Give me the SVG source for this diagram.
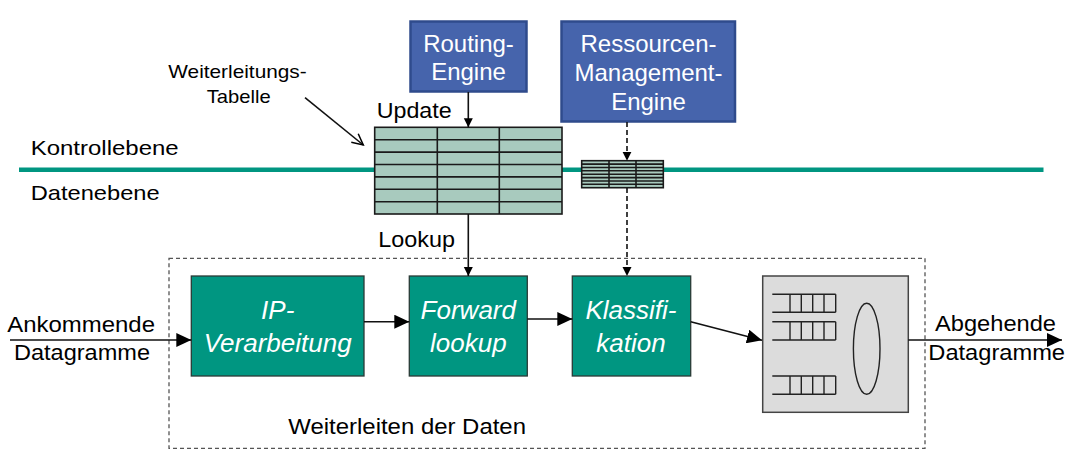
<svg xmlns="http://www.w3.org/2000/svg" width="1070" height="464" viewBox="0 0 1070 464">
<defs>
<style>
.lbl{font-family:"Liberation Sans",Arial,sans-serif;fill:#000}
.btxt{font-family:"Liberation Sans",Arial,sans-serif;fill:#fff;font-size:24px;text-anchor:middle}
.gtxt{font-family:"Liberation Sans",Arial,sans-serif;fill:#fff;font-size:26px;font-style:italic;text-anchor:middle}
.blue{fill:#4664AC;stroke:#2F4B8C;stroke-width:2.5}
.green{fill:#009681;stroke:#2a3a36;stroke-width:1.3}
.tbl{fill:#A8CABE;stroke:#1a1a1a;stroke-width:1.6}
.tl{stroke:#1a1a1a;stroke-width:1.6;fill:none}
.con{stroke:#111;stroke-width:1.6;fill:none}
.dash{stroke:#111;stroke-width:1.6;fill:none;stroke-dasharray:5 3}
.q{stroke:#222;stroke-width:1.4;fill:none}
</style>
<marker id="big" markerUnits="userSpaceOnUse" markerWidth="16" markerHeight="14" refX="15" refY="7" orient="auto">
<path d="M0,0 L15,7 L0,14 Z" fill="#000"/>
</marker>
<marker id="small" markerUnits="userSpaceOnUse" markerWidth="10" markerHeight="10" refX="9" refY="5" orient="auto">
<path d="M0,0.5 L9,5 L0,9.5 Z" fill="#000"/>
</marker>
<marker id="open" markerUnits="userSpaceOnUse" markerWidth="14" markerHeight="14" refX="12" refY="7" orient="auto">
<path d="M1,1.5 L12,7 L1,12.5" fill="none" stroke="#000" stroke-width="1.5"/>
</marker>
</defs>
<rect width="1070" height="464" fill="#fff"/>

<g id="planes">
<line x1="19" y1="169.7" x2="1043.5" y2="169.7" stroke="#009681" stroke-width="4.5"/>
<text class="lbl" x="30.7" y="155" font-size="21" textLength="148" lengthAdjust="spacingAndGlyphs">Kontrollebene</text>
<text class="lbl" x="30.7" y="200" font-size="21" textLength="129" lengthAdjust="spacingAndGlyphs">Datenebene</text>
</g>

<g id="container">
<rect x="169" y="258.3" width="756" height="190" fill="none" stroke="#555" stroke-width="1.3" stroke-dasharray="4 3"/>
<text class="lbl" x="288.3" y="434.3" font-size="22" textLength="237.7" lengthAdjust="spacingAndGlyphs">Weiterleiten der Daten</text>
</g>

<g id="routing-engine">
<rect class="blue" x="410.5" y="21.5" width="116" height="70"/>
<text class="btxt" x="468.5" y="51.7">Routing-</text>
<text class="btxt" x="468.5" y="80">Engine</text>
</g>

<g id="ressourcen-engine">
<rect class="blue" x="561.5" y="21.5" width="173.5" height="100"/>
<text class="btxt" x="648.5" y="51.7">Ressourcen-</text>
<text class="btxt" x="648.5" y="81">Management-</text>
<text class="btxt" x="648.5" y="110">Engine</text>
</g>

<g id="weiterleitungstabelle">
<rect class="tbl" x="374.7" y="127.3" width="187.3" height="86.7"/>
<path class="tl" d="M374.7,139.7H562M374.7,152.1H562M374.7,164.5H562M374.7,176.9H562M374.7,189.3H562M374.7,201.7H562M437.3,127.3V214M499.3,127.3V214"/>
<text class="lbl" x="168.3" y="78.3" font-size="19" textLength="138.4" lengthAdjust="spacingAndGlyphs">Weiterleitungs-</text>
<text class="lbl" x="206.7" y="103.3" font-size="19" textLength="64" lengthAdjust="spacingAndGlyphs">Tabelle</text>
</g>

<g id="ressourcen-tabelle">
<rect class="tbl" x="581.7" y="160.7" width="81.6" height="27" stroke-width="1.3"/>
<path class="tl" stroke-width="1.1" d="M581.7,164.1H663.3M581.7,167.5H663.3M581.7,170.8H663.3M581.7,174.2H663.3M581.7,177.6H663.3M581.7,181H663.3M581.7,184.3H663.3M609,160.7V187.7M636,160.7V187.7"/>
</g>

<g id="ip-verarbeitung">
<rect class="green" x="191.3" y="276" width="172.7" height="100"/>
<text class="gtxt" x="277.7" y="319.3">IP-</text>
<text class="gtxt" x="277.7" y="351.7">Verarbeitung</text>
</g>

<g id="forward-lookup">
<rect class="green" x="409.3" y="276" width="118" height="100"/>
<text class="gtxt" x="468.3" y="319.3">Forward</text>
<text class="gtxt" x="468.3" y="351.7">lookup</text>
</g>

<g id="klassifikation">
<rect class="green" x="572.3" y="276" width="118.4" height="100"/>
<text class="gtxt" x="631" y="319.3">Klassifi-</text>
<text class="gtxt" x="631" y="351.7">kation</text>
</g>

<g id="scheduler">
<rect x="762.7" y="276" width="145.6" height="136.3" fill="#DCDCDC" stroke="#444" stroke-width="1.5"/>
<path class="q" d="M772.3,294.3H835.7M772.3,312.3H835.7M790,294.3V312.3M801.3,294.3V312.3M812.7,294.3V312.3M824,294.3V312.3M835.7,294.3V312.3"/>
<path class="q" d="M772.3,321.7H835.7M772.3,340H835.7M790,321.7V340M801.3,321.7V340M812.7,321.7V340M824,321.7V340M835.7,321.7V340"/>
<path class="q" d="M772.3,376H835.7M772.3,394.3H835.7M790,376V394.3M801.3,376V394.3M812.7,376V394.3M824,376V394.3M835.7,376V394.3"/>
<ellipse cx="866.7" cy="348.8" rx="13.3" ry="45.5" fill="none" stroke="#222" stroke-width="1.4"/>
</g>

<g id="io-labels">
<text class="lbl" x="7.3" y="332.3" font-size="22" textLength="147.7" lengthAdjust="spacingAndGlyphs">Ankommende</text>
<text class="lbl" x="14" y="360" font-size="22" textLength="136" lengthAdjust="spacingAndGlyphs">Datagramme</text>
<text class="lbl" x="935" y="330.7" font-size="22" textLength="121" lengthAdjust="spacingAndGlyphs">Abgehende</text>
<text class="lbl" x="928.3" y="360" font-size="22" textLength="136.7" lengthAdjust="spacingAndGlyphs">Datagramme</text>
<text class="lbl" x="376.7" y="117.7" font-size="22" textLength="75" lengthAdjust="spacingAndGlyphs">Update</text>
<text class="lbl" x="378.3" y="246.7" font-size="22" textLength="76.7" lengthAdjust="spacingAndGlyphs">Lookup</text>
</g>

<g id="connectors">
<line class="con" x1="305" y1="97.7" x2="363.3" y2="145" marker-end="url(#open)"/>
<line class="con" x1="468.3" y1="92" x2="468.3" y2="127.3" marker-end="url(#small)"/>
<line class="con" x1="468.3" y1="214" x2="468.3" y2="276" marker-end="url(#small)"/>
<line class="dash" x1="627" y1="122" x2="627" y2="160.7" marker-end="url(#small)"/>
<line class="dash" x1="627" y1="188" x2="627" y2="276" marker-end="url(#small)"/>
<line class="con" x1="10" y1="340" x2="191.3" y2="340" stroke-width="2" marker-end="url(#big)"/>
<line class="con" x1="364" y1="321.7" x2="409.3" y2="321.7" marker-end="url(#big)"/>
<line class="con" x1="527.3" y1="319" x2="572.3" y2="319" marker-end="url(#big)"/>
<line class="con" x1="690.7" y1="321.7" x2="762" y2="340.3" marker-end="url(#big)"/>
<line class="con" x1="908.3" y1="340" x2="1062" y2="340" stroke-width="2" marker-end="url(#big)"/>
</g>
</svg>
